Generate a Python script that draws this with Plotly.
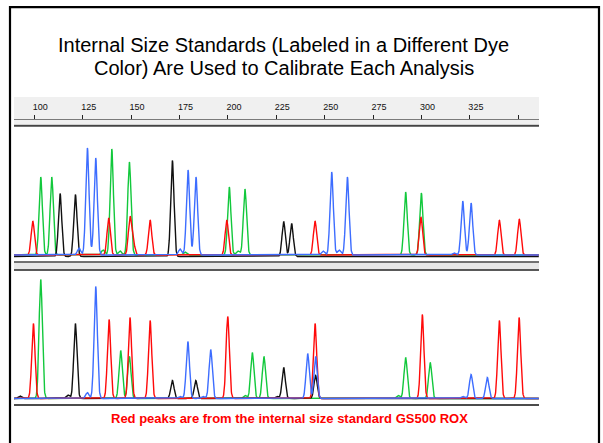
import numpy as np
import plotly.graph_objects as go

W, H = 603, 443

# ---------------- data (sizes in bases, heights in relative fluorescence units) ----------------
ruler_ticks = [100, 125, 150, 175, 200, 225, 250, 275, 300, 325, 350]
ruler_labels = ["100", "125", "150", "175", "200", "225", "250", "275", "300", "325", ""]
size_range = [89.5, 360.7]

# Upper electropherogram
top_red_pos = [99.2, 138.4, 149.4, 151.1, 159.8, 199.4, 245.0, 299.7, 340.2, 350.5]
top_red_h = [34, 37, 37, 12, 35, 35, 34, 38, 35, 36]
top_green_pos = [103.3, 109.0, 135.5, 140.0, 144.3, 149.1, 177.8, 200.7, 205.2, 208.8, 291.8, 299.9]
top_green_h = [78, 78, 5, 106, 4, 93, 3, 68, 4, 66, 63, 62]
top_black_pos = [113.3, 121.2, 171.3, 228.8, 232.9]
top_black_h = [63, 62, 96, 35, 33]
top_blue_pos = [123.1, 127.4, 131.7, 175.3, 179.4, 183.5, 249.1, 253.6, 257.4, 261.7, 316.8, 321.3, 325.6]
top_blue_h = [7, 107, 97, 6, 85, 78, 4, 83, 5, 78, 2, 54, 52]

# Lower electropherogram
bot_red_pos = [99.5, 138.6, 149.4, 159.8, 199.9, 245.0, 300.4, 340.2, 350.4]
bot_red_h = [75, 79, 81, 78, 82, 75, 84, 78, 81]
bot_green_pos = [103.3, 144.6, 149.1, 208.8, 212.6, 218.6, 287.9, 291.8, 304.5]
bot_green_h = [119, 48, 42, 3, 46, 42, 3, 41, 36]
bot_black_pos = [92.6, 117.3, 121.2, 171.3, 183.4, 225.4, 228.8, 245.3]
bot_black_h = [2.5, 3.5, 75, 18, 18, 2, 31, 23]
bot_blue_pos = [127.4, 131.7, 175.3, 179.3, 187.1, 191.1, 241.2, 245.3, 321.3, 325.6, 334.0]
bot_blue_h = [6, 112, 2, 57, 2, 49, 45, 42, 2, 24, 21]

peak_sigma = 0.85  # peak width (bases)

RED, GREEN, BLUE, BLACK = "#ff0a0a", "#12c83c", "#3d6dff", "#111111"
FONT = "Liberation Sans, Arial, sans-serif"


def trace_curve(pos, hts, baseline=0.0):
    x = np.arange(size_range[0], size_range[1], 0.1)
    y = np.full_like(x, baseline)
    for p, h in zip(pos, hts):
        y = y + h * np.exp(-0.5 * ((x - p) / peak_sigma) ** 2)
    return x, y


def py(px):
    return 1 - px / H


def pxx(px):
    return px / W


fig = go.Figure()

panels = [
    ("x", "y", [(top_green_pos, top_green_h, GREEN, 0), (top_black_pos, top_black_h, BLACK, -1.5),
                (top_red_pos, top_red_h, RED, 0), (top_blue_pos, top_blue_h, BLUE, 0)]),
    ("x2", "y2", [(bot_green_pos, bot_green_h, GREEN, 0), (bot_black_pos, bot_black_h, BLACK, 0),
                  (bot_red_pos, bot_red_h, RED, 0), (bot_blue_pos, bot_blue_h, BLUE, 0)]),
]
for xa, ya, dyes in panels:
    for pos, hts, col, base in dyes:
        x, y = trace_curve(pos, hts, base)
        fig.add_trace(go.Scatter(x=x, y=y, mode="lines", xaxis=xa, yaxis=ya,
                                 line=dict(color=col, width=1.4), hoverinfo="skip",
                                 showlegend=False))

# invisible traces to carry the ruler axes (tick marks / tick labels)
for xa, ya in (("x3", "y3"), ("x4", "y4")):
    fig.add_trace(go.Scatter(x=size_range, y=[0, 0], mode="lines", xaxis=xa, yaxis=ya,
                             line=dict(width=0), hoverinfo="skip", showlegend=False))

xdom = [pxx(14), pxx(539)]
fig.update_layout(
    width=W, height=H,
    margin=dict(l=0, r=0, t=0, b=0),
    paper_bgcolor="white", plot_bgcolor="rgba(0,0,0,0)",
    font=dict(family=FONT, color="black"),
    xaxis=dict(domain=xdom, range=size_range, visible=False, anchor="y"),
    yaxis=dict(domain=[py(262), py(128)], range=[-7, 127], visible=False, anchor="x"),
    xaxis2=dict(domain=xdom, range=size_range, visible=False, anchor="y2"),
    yaxis2=dict(domain=[py(405), py(271)], range=[-6.5, 127.5], visible=False, anchor="x2"),
    # ruler: line + tick marks
    xaxis3=dict(domain=xdom, range=size_range, anchor="y3", side="top",
                tickmode="array", tickvals=ruler_ticks, showticklabels=False,
                ticks="outside", ticklen=4, tickcolor="#222", tickwidth=1,
                showline=True, linecolor="#7a7a7a", linewidth=1,
                showgrid=False, zeroline=False),
    yaxis3=dict(domain=[py(126), py(120)], range=[0, 1], visible=False, anchor="x3"),
    # ruler: tick labels
    xaxis4=dict(domain=xdom, range=size_range, anchor="y4", side="top",
                tickmode="array", tickvals=ruler_ticks, ticktext=ruler_labels,
                ticks="", showline=False, showgrid=False, zeroline=False,
                tickfont=dict(size=9, family=FONT, color="#111"),
                ticklabelshift=6),
    yaxis4=dict(domain=[py(120), py(113)], range=[0, 1], visible=False, anchor="x4"),
)

shapes = []
# ruler background band
shapes.append(dict(type="rect", xref="paper", yref="paper", x0=pxx(14), x1=pxx(539),
                   y0=py(124), y1=py(97), fillcolor="#f0f0f0", line=dict(width=0), layer="below"))
# dark line under ruler
shapes.append(dict(type="line", xref="paper", yref="paper", x0=pxx(14), x1=pxx(539),
                   y0=py(125.8), y1=py(125.8), line=dict(color="#444", width=2)))
# separator between panels
shapes.append(dict(type="rect", xref="paper", yref="paper", x0=pxx(14), x1=pxx(539),
                   y0=py(269.5), y1=py(262.5), fillcolor="#e8e8e8", line=dict(width=0), layer="below"))
shapes.append(dict(type="line", xref="paper", yref="paper", x0=pxx(14), x1=pxx(539),
                   y0=py(262), y1=py(262), line=dict(color="#444", width=1.5)))
shapes.append(dict(type="line", xref="paper", yref="paper", x0=pxx(14), x1=pxx(539),
                   y0=py(270), y1=py(270), line=dict(color="#222", width=1.5)))
# bottom line of lower panel
shapes.append(dict(type="line", xref="paper", yref="paper", x0=pxx(14), x1=pxx(539),
                   y0=py(405), y1=py(405), line=dict(color="#111", width=1.5)))
# slide frame
shapes.append(dict(type="line", xref="paper", yref="paper", x0=pxx(9), x1=pxx(600),
                   y0=py(7.2), y1=py(7.2), line=dict(color="black", width=2.2)))
shapes.append(dict(type="line", xref="paper", yref="paper", x0=pxx(10), x1=pxx(10),
                   y0=py(6), y1=py(443), line=dict(color="black", width=2.2)))
shapes.append(dict(type="line", xref="paper", yref="paper", x0=pxx(599), x1=pxx(599),
                   y0=py(6), y1=py(443), line=dict(color="black", width=2.2)))
fig.update_layout(shapes=shapes)

title_lines = ["Internal Size Standards (Labeled in a Different Dye",
               "Color) Are Used to Calibrate Each Analysis"]
for line_text, ypx in zip(title_lines, (45, 68)):
    fig.add_annotation(xref="paper", yref="paper", x=pxx(283.5), y=py(ypx),
                       text=line_text, showarrow=False, xanchor="center", yanchor="middle",
                       font=dict(size=20, family=FONT, color="black"))
fig.add_annotation(xref="paper", yref="paper", x=pxx(289), y=py(418),
                   text="<b>Red peaks are from the internal size standard GS500 ROX</b>",
                   showarrow=False, xanchor="center", yanchor="middle",
                   font=dict(size=13, family=FONT, color="#ff0000"))

fig.write_html("out.html",
               config={"displayModeBar": False},
               post_script="document.body.style.margin='0px';"
                           "document.body.style.padding='0px';"
                           "document.documentElement.style.overflow='hidden';")
